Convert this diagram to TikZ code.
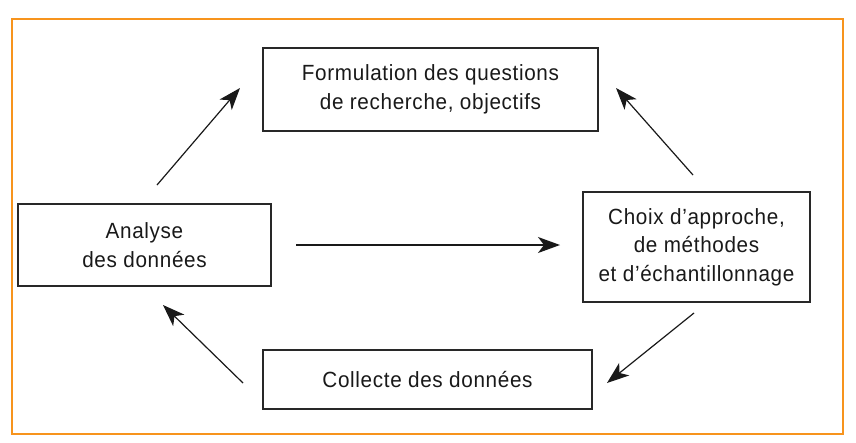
\documentclass[tikz,border=0pt]{standalone}
\usepackage{fontspec}
\setmainfont{Liberation Sans}[FakeStretch=0.94,LetterSpace=3]
\usetikzlibrary{arrows.meta}
\definecolor{cadre}{RGB}{247,148,29}
\definecolor{trait}{RGB}{40,40,40}
\tikzset{
  etape/.style={draw=trait, line width=1.3pt, align=center, inner sep=0pt,
    font=\fontsize{22}{28.5}\selectfont, text=black!90},
  fleche/.style={-{Stealth[length=22pt,width=16pt,inset=6pt]}, line width=1.2pt, black!90}
}
\begin{document}
\begin{tikzpicture}[x=1pt,y=-1pt]
  \useasboundingbox (0,0) rectangle (856,442);
  % cadre orange
  \draw[cadre, line width=1.8pt] (12,19) rectangle (843,434);

  % les quatre etapes
  \node[etape, minimum width=335pt, minimum height=83pt] (questions) at (430.5,89.5)
    {Formulation des questions\\de recherche, objectifs};
  \node[etape, minimum width=253pt, minimum height=82pt] (analyse) at (144.5,245)
    {Analyse\\des données};
  \node[etape, minimum width=227pt, minimum height=110pt] (choix) at (696.5,247)
    {Choix d’approche,\\de méthodes\\et d’échantillonnage};
  \node[etape, minimum width=329pt, minimum height=59pt] (collecte) at (427.5,379.5)
    {Collecte des données};

  % extremites des fleches
  \coordinate (a1) at (157,185);  \coordinate (a2) at (240,88);
  \coordinate (b1) at (693,175);  \coordinate (b2) at (616,88);
  \coordinate (c1) at (296,245);  \coordinate (c2) at (560,245);
  \coordinate (d1) at (694,313);  \coordinate (d2) at (607,383);
  \coordinate (e1) at (243,383);  \coordinate (e2) at (163,305);

  % fleches
  \draw[fleche] (a1) -- (a2);
  \draw[fleche] (b1) -- (b2);
  \draw[fleche] (c1) -- (c2);
  \draw[fleche] (d1) -- (d2);
  \draw[fleche] (e1) -- (e2);
\end{tikzpicture}
\end{document}
